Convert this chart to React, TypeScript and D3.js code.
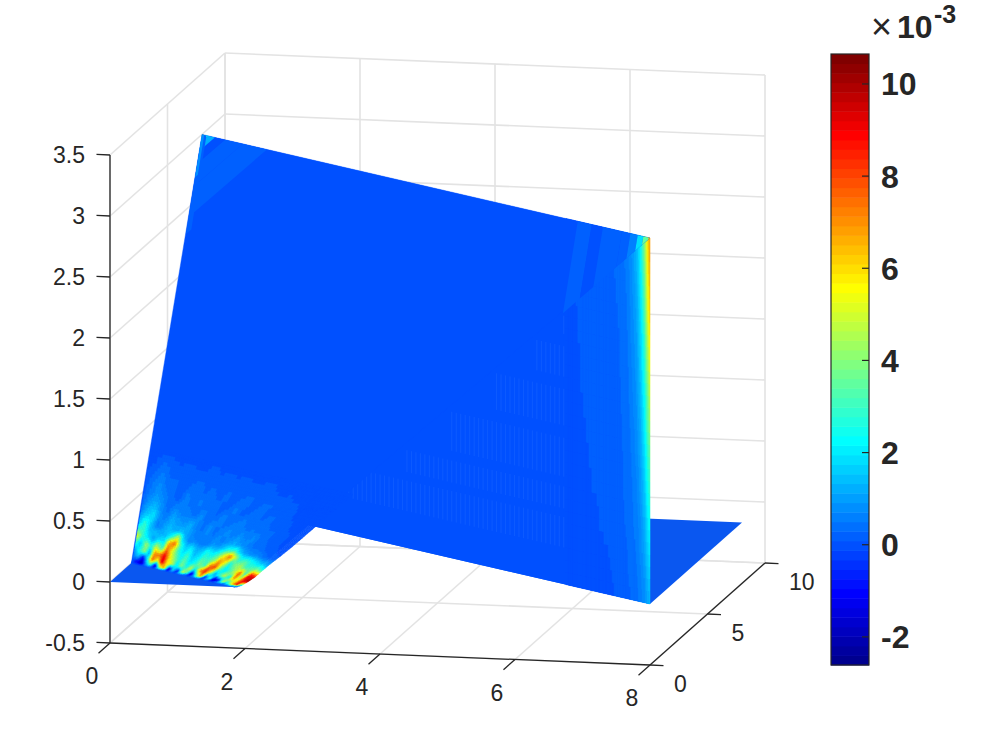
import React from 'react';
import * as d3 from 'd3';

type Pt = [number, number];

// axes
const xTicks = [0, 2, 4, 6, 8];
const yTicks = [0, 5, 10];
const zTicks = [-0.5, 0, 0.5, 1, 1.5, 2, 2.5, 3, 3.5];
const zTickLabels = ['-0.5', '0', '0.5', '1', '1.5', '2', '2.5', '3', '3.5'];
const cbarTicks = [-2, 0, 2, 4, 6, 8, 10];
const cbarDomain: Pt = [-2.61, 10.65];

// height of the ramp against x+y
const rampT = [1.85, 1.95, 2.05, 2.15, 2.25, 2.35, 2.45, 2.55, 2.7, 2.85, 3.0, 3.2, 3.4, 3.6, 8];
const rampZ = [0, 0.015, 0.05, 0.09, 0.14, 0.19, 0.235, 0.28, 0.35, 0.425, 0.5, 0.6, 0.7, 0.8, 3];

// fan position across the ramp, -1 is the x=0 edge and 1 the y=0 edge
const fanR = [-1, -0.92, -0.83, -0.75, -0.67, -0.58, -0.5, -0.42, -0.33, -0.25, -0.17, -0.08, 0, 0.08, 0.17, 0.25, 0.33, 0.42, 0.5, 0.58, 0.67, 0.75, 0.83, 0.92, 1];

// error (x 1e-3) at the foot of the ramp, one row per rampT value
const footError = [
  [0, 0, 0, 0, 0, 0, 0, 0, 0, 0, 0, 0, 0, 0, 0, 0, 0, 0, 0, 0, 0, 0, 0, 0, 0],
  [0, -1, -2, 1, 3, -2, 5, 7, -2, 2, -1, 5, 3, -2, 3, 7, -1, 3, -2, -1, 5, 2, 6, 9, 0],
  [0.5, 1.5, -1, 2.5, 7.5, 5, 9.5, 6, 5, 2, 4, 2.5, 5, 2, 7, 8.5, 5, 1, 3, 5, 2, 7, 5, 9, 10.5],
  [1, 2.5, 4, 1, 7, 7.5, 9, 6, 4, 2.5, 3.5, 2, 2.5, 4, 3, 7.5, 8, 3.5, 2, 3, 5, 8, 3, 9.5, 9],
  [3, 1.5, 4.5, 2.5, 5, 3, 7.5, 5.5, 3, 2, 3, 1.5, 2, 3, 3, 4, 7, 5.5, 2.5, 4, 4.5, 3, 3.5, 4, 3],
  [5.5, 3, 2, 1, 2, 2, 6.5, 7.5, 3, 1.5, 2, 1.2, 1.5, 2.5, 2, 3, 5, 7.5, 5, 2.5, 3, 2.5, 2, 1.5, 1],
  [3, 3, 1.5, 1.5, 1.2, 1.5, 2.5, 5, 1.5, 0.7, 0.8, 0.5, 0.6, 1, 1, 1.5, 2.5, 3, 1.5, 1, 0.8, 0.8, 0.4, 0.3, 0.2],
  [1.5, 3, 1.5, 0.6, 1, 1.5, 1.2, 1.5, 1.2, 0.8, 0.5, 0.7, 0.5, 0.8, 0.6, 1, 1.2, 1, 0.7, 0.5, 0.5, 0.3, 0.2, 0.1, 0],
  [0.8, 1.5, 2, 0.8, 0.6, 1.2, 1, 0.8, 1.2, 0.7, 0.4, 0.9, 0.4, 0.6, 0.8, 0.5, 0.8, 0.5, 0.8, 0.4, 0.3, 0.2, 0.1, 0, 0],
  [0.3, 1, 1.3, 0.8, 0.3, 0.8, 0.5, 0.6, 0.3, 0.8, 0.3, 0.3, 0.7, 0.3, 0.5, 0.7, 0.3, 0.5, 0.3, 0.3, 0.3, 0.1, 0.1, 0, 0],
  [0.2, 0.6, 0.9, 0.6, 0.3, 0.2, 0.7, 0.3, 0.6, 0.3, 0.5, 0.2, 0.3, 0.6, 0.2, 0.3, 0.5, 0.2, 0.4, 0.2, 0.1, 0.1, 0, 0, 0],
  [0.1, 0.4, 0.7, 0.3, 0.4, 0.1, 0.3, 0.5, 0.2, 0.4, 0.1, 0.4, 0.1, 0.3, 0.4, 0.1, 0.3, 0.3, 0.1, 0.2, 0.1, 0, 0, 0, 0],
  [0, 0.1, 0.4, 0.2, 0.1, 0.2, 0.1, 0.1, 0.3, 0.1, 0.2, 0.1, 0.2, 0.1, 0.1, 0.2, 0.1, 0, 0.1, 0, 0, 0, 0, 0, 0],
  [0, 0, 0, 0, 0, 0, 0, 0, 0, 0, 0, 0, 0, 0, 0, 0, 0, 0, 0, 0, 0, 0, 0, 0, 0],
];

// error on the vertical wall, d is the distance along x from the (8,0) corner
const wallD = [0, 0.05, 0.1, 0.17, 0.24, 0.32, 0.42, 0.55, 0.75, 1, 1.3, 1.5];
const wallZ = [3, 2.4, 1.8, 1.2, 0.6, 0];
const wallError = [
  [7, 6, 4.2, 2.4, 1.5, 1, 0.6, 0.35, 0.25, 0.25, 0.1, 0],
  [6.3, 5.2, 3.4, 2, 1.2, 0.85, 0.5, 0.3, 0.25, 0.25, 0.1, 0],
  [5.2, 4, 2.6, 1.6, 1, 0.7, 0.4, 0.28, 0.25, 0.25, 0.05, 0],
  [3.6, 2.8, 1.9, 1.2, 0.8, 0.55, 0.35, 0.25, 0.25, 0.15, 0, 0],
  [2.3, 1.9, 1.3, 0.9, 0.6, 0.45, 0.3, 0.25, 0.15, 0.05, 0, 0],
  [1.3, 1.1, 0.8, 0.6, 0.4, 0.3, 0.25, 0.15, 0, 0, 0, 0],
];

// faint vertical hatching on the wall: [z from, z to, d from, d to]
const wallHatch = [
  [0.3, 0.55, 1.3, 5.4],
  [0.62, 0.8, 1.3, 4.4],
  [0.88, 1.2, 1.3, 3.6],
  [1.3, 1.6, 1.3, 2.8],
  [1.7, 1.95, 1.3, 2.1],
  [2.05, 2.2, 1.3, 1.6],
];

// lighter bands on the ramp near the two top corners: [from, to, error]
const bandsAlongX = [
  [6.71, 6.96, 0.2], [6.96, 7.16, 0.05], [7.16, 7.5, 0.2], [7.5, 7.65, 0.1],
  [7.65, 7.78, 0.7], [7.78, 7.88, 1.8], [7.88, 7.97, 3.5], [7.97, 8, 6],
];
const bandsAlongY = [
  [6.84, 7.27, 0.2], [7.27, 7.59, 0.25], [7.59, 7.77, 0], [7.77, 7.89, 1.2], [7.89, 7.95, 2.5], [7.95, 8, 4.5],
];
// strip along the x=0 edge below the tip: [x from, x to, y from, error]
const leftEdgeBands = [
  [0, 0.08, 6.6, 0.25],
  [0, 0.04, 7.4, 0.8],
];

// oblique projection of the 3D box on the page
const xToX = d3.scaleLinear().domain([0, 8]).range([0, 540]);
const xToY = d3.scaleLinear().domain([0, 8]).range([0, 22]);
const yToX = d3.scaleLinear().domain([0, 10]).range([0, 115]);
const yToY = d3.scaleLinear().domain([0, 10]).range([0, -102]);
const zToY = d3.scaleLinear().domain([-0.5, 3.5]).range([643, 155]);
const project = (x: number, y: number, z: number): Pt => [110 + xToX(x) + yToX(y), zToY(z) + xToY(x) + yToY(y)];

const heightAt = d3.scaleLinear().domain(rampT).range(rampZ).clamp(true);

// jet with 64 levels
const jet64 = d3.range(1, 65).map((i) => {
  const c = (v: number) => Math.round(255 * Math.max(0, Math.min(1, v)));
  const r = Math.min((i - 24) / 16, (72 - i) / 16);
  const g = Math.min((i - 8) / 16, (56 - i) / 16);
  const b = Math.min((i + 8) / 16, (40 - i) / 16);
  return d3.rgb(c(r), c(g), c(b)).formatHex();
});
const colour = d3.scaleQuantize<string>().domain(cbarDomain).range(jet64);
const cbarY = d3.scaleLinear().domain(cbarDomain).range([665, 54]);

const line = d3.line<Pt>();
const closed = (pts: Pt[]) => line(pts) + 'Z';

const lerp = (a: Pt, b: Pt, t: number): Pt => [a[0] + (b[0] - a[0]) * t, a[1] + (b[1] - a[1]) * t];

// each mesh cell is split so the colours blend across it, like shading interp
function meshCells(nodes: Pt[][], values: number[][], sub = 3) {
  const cells: { d: string; fill: string }[] = [];
  for (let i = 0; i < nodes.length - 1; i++) {
    for (let j = 0; j < nodes[0].length - 1; j++) {
      const at = (u: number, v: number) => lerp(lerp(nodes[i][j], nodes[i][j + 1], v), lerp(nodes[i + 1][j], nodes[i + 1][j + 1], v), u);
      for (let a = 0; a < sub; a++) {
        for (let b = 0; b < sub; b++) {
          const u0 = a / sub, u1 = (a + 1) / sub, v0 = b / sub, v1 = (b + 1) / sub;
          const um = (u0 + u1) / 2, vm = (v0 + v1) / 2;
          const top = values[i][j] + (values[i][j + 1] - values[i][j]) * vm;
          const bot = values[i + 1][j] + (values[i + 1][j + 1] - values[i + 1][j]) * vm;
          cells.push({
            d: closed([at(u0, v0), at(u0, v1), at(u1, v1), at(u1, v0)]),
            fill: colour(top + (bot - top) * um),
          });
        }
      }
    }
  }
  return cells;
}

const footNodes = rampT.slice(0, footError.length).map((t) =>
  fanR.map((r) => project((t * (1 + r)) / 2, (t * (1 - r)) / 2, heightAt(t)))
);
const wallNodes = wallZ.map((z) => wallD.map((d) => project(8 - d, d, z)));
const footCells = meshCells(footNodes, footError, 4);
const wallCells = meshCells(wallNodes, wallError, 6);

const hatchLines: { d: string }[] = [];
wallHatch.forEach(([z0, z1, d0, d1]) => {
  d3.range(d0, d1, 0.08).forEach((d) => {
    hatchLines.push({ d: line([project(8 - d, d, z0), project(8 - d, d, z1)]) as string });
  });
});

const GRID = '#e3e3e3';
const INK = '#262626';
const BASE = colour(0);
const PLATE = '#0a57f0';
const FONT = '"Liberation Sans", Arial, sans-serif';

export default function App() {
  const gridLines: [Pt, Pt][] = [];
  zTicks.forEach((z) => {
    gridLines.push([project(0, 0, z), project(0, 10, z)]);
    gridLines.push([project(0, 10, z), project(8, 10, z)]);
  });
  xTicks.forEach((x) => {
    gridLines.push([project(x, 10, -0.5), project(x, 10, 3.5)]);
    gridLines.push([project(x, 0, -0.5), project(x, 10, -0.5)]);
  });
  yTicks.forEach((y) => {
    gridLines.push([project(0, y, -0.5), project(0, y, 3.5)]);
    gridLines.push([project(0, y, -0.5), project(8, y, -0.5)]);
  });

  const rampBase = closed([project(0, 1.85, 0), project(0, 8, 3), project(8, 0, 3), project(1.85, 0, 0)]);

  return (
    <svg width={997} height={747} viewBox="0 0 997 747" style={{ position: 'absolute', left: 0, top: 0, background: '#fff' }} fontFamily={FONT}>
      <g stroke={GRID} strokeWidth={1.6} fill="none">
        {gridLines.map((l, i) => (
          <path key={i} d={line(l) as string} />
        ))}
      </g>

      {/* surface, back to front */}
      <path d={closed([project(8, 0, 0), project(8, 8, 0), project(0, 8, 0)])} fill={PLATE} />
      <path d={closed([project(0, 8, 3), project(8, 0, 3), project(8, 0, 0), project(0, 8, 0)])} fill={BASE} />
      <g stroke="#2f78ff" strokeWidth={1} opacity={0.28}>
        {hatchLines.map((h, i) => (
          <path key={i} d={h.d} />
        ))}
      </g>
      {wallCells.map((c, i) => (
        <path key={i} d={c.d} fill={c.fill} stroke={c.fill} strokeWidth={0.5} />
      ))}
      <path d={closed([project(0, 0, 0), project(0, 1.9, 0), project(1.9, 0, 0)])} fill={PLATE} />
      <path d={rampBase} fill={BASE} stroke={BASE} strokeWidth={0.4} />
      {bandsAlongX.map(([a, b, v], i) => (
        <path
          key={i}
          d={closed([project(a, 0, heightAt(a)), project(a, 8 - a, 3), project(b, 8 - b, 3), project(b, 0, heightAt(b))])}
          fill={colour(v)}
        />
      ))}
      {bandsAlongY.map(([a, b, v], i) => (
        <path
          key={i}
          d={closed([project(0, a, heightAt(a)), project(8 - a, a, 3), project(8 - b, b, 3), project(0, b, heightAt(b))])}
          fill={colour(v)}
        />
      ))}
      {leftEdgeBands.map(([x0, x1, yFrom, v], i) => (
        <path
          key={i}
          d={closed([
            project(x0, yFrom, heightAt(x0 + yFrom)),
            project(x0, 8 - x0, 3),
            project(x1, 8 - x1, 3),
            project(x1, yFrom, heightAt(x1 + yFrom)),
          ])}
          fill={colour(v)}
        />
      ))}
      {footCells.map((c, i) => (
        <path key={i} d={c.d} fill={c.fill} stroke={c.fill} strokeWidth={0.5} />
      ))}

      {/* axes */}
      <g stroke={INK} strokeWidth={1.3} fill="none">
        <path d={line([project(0, 0, -0.5), project(0, 0, 3.5)]) as string} />
        <path d={line([project(0, 0, -0.5), project(8, 0, -0.5)]) as string} />
        <path d={line([project(8, 0, -0.5), project(8, 10, -0.5)]) as string} />
        {zTicks.map((z) => (
          <path key={z} d={line([project(0, 0, z), project(-0.2, 0, z)]) as string} />
        ))}
        {xTicks.map((x) => (
          <path key={x} d={line([project(x, 0, -0.5), project(x, -1, -0.5)]) as string} />
        ))}
        {yTicks.map((y) => (
          <path key={y} d={line([project(8, y, -0.5), project(8.2, y, -0.5)]) as string} />
        ))}
      </g>
      <g fontSize={23} fill={INK}>
        {zTicks.map((z, i) => {
          const [px, py] = project(0, 0, z);
          return (
            <text key={z} x={px - 25} y={py + 8} textAnchor="end">
              {zTickLabels[i]}
            </text>
          );
        })}
        {xTicks.map((x) => {
          const [px, py] = project(x, 0, -0.5);
          return (
            <text key={x} x={px - 18} y={py + 41} textAnchor="middle">
              {x}
            </text>
          );
        })}
        {yTicks.map((y) => {
          const [px, py] = project(8, y, -0.5);
          return (
            <text key={y} x={px + 24} y={py + 27}>
              {y}
            </text>
          );
        })}
      </g>

      {/* colour bar */}
      {jet64.map((c, i) => {
        const step = (cbarDomain[1] - cbarDomain[0]) / 64;
        const y0 = cbarY(cbarDomain[0] + step * (i + 1));
        const y1 = cbarY(cbarDomain[0] + step * i);
        return <rect key={c + i} x={831} y={y0} width={38} height={y1 - y0 + 0.5} fill={c} />;
      })}
      <rect x={831} y={54} width={38} height={611} fill="none" stroke={INK} strokeWidth={1.2} />
      {cbarTicks.map((t) => (
        <g key={t}>
          <line x1={862} x2={869} y1={cbarY(t)} y2={cbarY(t)} stroke={INK} strokeWidth={1.2} />
          <text x={881} y={cbarY(t) + 11.5} fontSize={32} fontWeight="bold" fill={INK}>
            {t}
          </text>
        </g>
      ))}
      <text x={871} y={39} fontSize={36} fill={INK}>
        ×
      </text>
      <text x={897} y={38} fontSize={32} fontWeight="bold" fill={INK}>
        10
      </text>
      <text x={934} y={23} fontSize={25} fontWeight="bold" fill={INK}>
        -3
      </text>
    </svg>
  );
}
